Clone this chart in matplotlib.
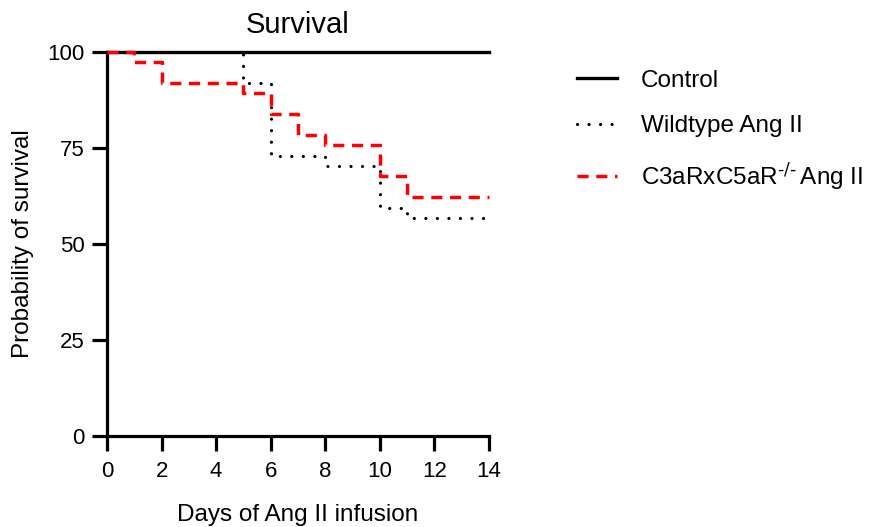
import numpy as np
import matplotlib.pyplot as plt

plt.rcParams['font.family'] = ['Liberation Sans', 'DejaVu Sans']
plt.rcParams['mathtext.default'] = 'regular'

# Kaplan-Meier steps (percent survival)
ctrl_days = [0, 14]
ctrl_surv = [100, 100]

wt_days = [0, 5, 6, 8, 10, 11, 14]
wt_surv = [100, 91.9, 73.0, 70.3, 59.5, 56.8, 56.8]

ko_days = [0, 1, 2, 5, 6, 7, 8, 10, 11, 14]
ko_surv = [100, 97.3, 91.9, 89.2, 83.8, 78.4, 75.7, 67.6, 62.2, 62.2]

labels = ['Control', 'Wildtype Ang II', r'C3aRxC5aR$^{\text{-/-}}\,$Ang II']

fig = plt.figure(figsize=(8.72, 5.27), dpi=100)
ax = fig.add_axes([0.1227, 0.1727, 0.4381, 0.7286])

ax.step(ctrl_days, ctrl_surv, where='post', color='black', lw=2.4,
        clip_on=False, zorder=2, label=labels[0])
ax.step(wt_days, wt_surv, where='post', color='black', lw=2.3,
        dashes=(0.01, 3.6), dash_capstyle='round', clip_on=False, zorder=3,
        label=labels[1])
ax.step(ko_days, ko_surv, where='post', color='#ff0000', lw=2.5,
        dashes=(3.2, 2.2), clip_on=False, zorder=3, label=labels[2])

ax.set_xlim(0, 14)
ax.set_ylim(0, 100)
ax.set_xticks(np.arange(0, 15, 2))
ax.set_yticks([0, 25, 50, 75, 100])

for s in ['top', 'right']:
    ax.spines[s].set_visible(False)
for s in ['left', 'bottom']:
    ax.spines[s].set_linewidth(2.3)
ax.tick_params(direction='out', length=11, width=2.3, labelsize=16)
ax.tick_params(axis='x', pad=7)
ax.tick_params(axis='y', pad=5)

ax.set_title('Survival', fontsize=21, pad=14)
ax.set_xlabel('Days of Ang II infusion', fontsize=17.5, labelpad=16)
ax.set_ylabel('Probability of survival', fontsize=17.5, labelpad=10)

fig.legend(loc='upper left', bbox_to_anchor=(0.662, 0.868), frameon=False,
           fontsize=17.5, handlelength=1.65, handletextpad=0.97, labelspacing=0.97,
           borderpad=0, borderaxespad=0)

fig.savefig('out.png', dpi=100)
